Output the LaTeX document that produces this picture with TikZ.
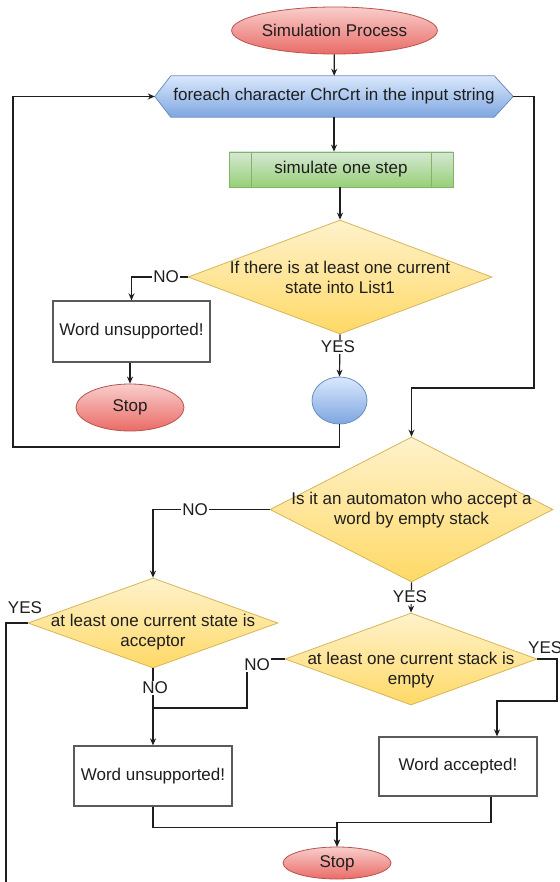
\documentclass[tikz,border=0pt]{standalone}
\usepackage{fontspec}
\setmainfont{Liberation Sans}
\usetikzlibrary{shapes.geometric,arrows.meta,backgrounds}

\definecolor{redA}{HTML}{F8CECC}\definecolor{redB}{HTML}{EA6B66}\definecolor{redS}{HTML}{B85450}
\definecolor{bluA}{HTML}{DAE8FC}\definecolor{bluB}{HTML}{7EA6E0}\definecolor{bluS}{HTML}{6C8EBF}
\definecolor{grnA}{HTML}{D5E8D4}\definecolor{grnB}{HTML}{97D077}\definecolor{grnS}{HTML}{82B366}
\definecolor{ylwA}{HTML}{FFF2CC}\definecolor{ylwB}{HTML}{FFD966}\definecolor{ylwS}{HTML}{D6B656}
\definecolor{boxS}{HTML}{5A5A5A}
\definecolor{ink}{HTML}{1E1E1E}

\tikzset{
  txt/.style={font=\fontsize{17}{20}\selectfont, text=ink, align=center, inner sep=0pt},
  terminal/.style={ellipse, draw=redS, line width=0.8pt, top color=redA, bottom color=redB, inner sep=0pt, txt},
  connector/.style={ellipse, draw=bluS, line width=0.8pt, top color=bluA, bottom color=bluB, inner sep=0pt},
  decision/.style={diamond, draw=ylwS, line width=0.8pt, top color=ylwA, bottom color=ylwB, inner sep=0pt},
  procbox/.style={rectangle, draw=boxS, line width=1.3pt, fill=white, txt},
  flow/.style={draw=ink, line width=1.2pt},
  arr/.style={flow, -{Stealth[length=7pt,width=6pt]}},
  lbl/.style={txt, fill=white, inner sep=1pt},
}

\begin{document}
\begin{tikzpicture}[x=1pt,y=-1pt]
\useasboundingbox (0,0) rectangle (559,882);
\begin{scope}[on background layer]
  \fill[white] (0,0) rectangle (559,882);
\end{scope}

% ---- shapes ----
\node[terminal, minimum width=155pt, minimum height=47pt] (start) at (334.5,30.5) {Simulation Process};

% loop header: hexagon drawn behind its text node
\node[txt, minimum width=358pt, minimum height=41pt] (loop) at (334,96.5) {foreach character ChrCrt in the input string};
\begin{scope}[on background layer]
  \path[draw=bluS, line width=0.8pt, top color=bluA, bottom color=bluB]
    (loop.west) -- ([xshift=16pt]loop.north west) -- ([xshift=-19pt]loop.north east)
    -- (loop.east) -- ([xshift=-19pt]loop.south east) -- ([xshift=16pt]loop.south west) -- cycle;
\end{scope}

\node[rectangle, draw=grnS, line width=0.8pt, top color=grnA, bottom color=grnB,
      minimum width=224pt, minimum height=35pt, txt] (step) at (341,169.5) {simulate one step};
\draw[grnS, line width=0.8pt] ([xshift=23pt]step.north west) -- ([xshift=23pt]step.south west)
  ([xshift=-22pt]step.north east) -- ([xshift=-22pt]step.south east);

\node[decision, minimum width=304pt, minimum height=114pt] (d1) at (340,277) {};
\node[txt] (t1) at (340,277) {If there is at least one current\\state into List1};

\node[procbox, minimum width=157pt, minimum height=61pt] (box1) at (131.5,331.5) {Word unsupported!};
\node[terminal, minimum width=108pt, minimum height=47pt] (stop1) at (130,407.5) {Stop};
\node[connector, minimum width=55pt, minimum height=47pt] (circ) at (339.5,400.5) {};

\node[decision, minimum width=283pt, minimum height=145pt] (d2) at (411.5,509.5) {};
\node[txt] (t2) at (411.5,510) {Is it an automaton who accept a\\word by empty stack};

\node[decision, minimum width=250pt, minimum height=90pt] (d3) at (153,623) {};
\node[txt] (t3) at (153,632) {at least one current state is\\acceptor};

\node[decision, minimum width=252pt, minimum height=92pt] (d4) at (411,659) {};
\node[txt] (t4) at (411,670) {at least one current stack is\\empty};

\node[procbox, minimum width=158pt, minimum height=60pt] (box2) at (153,776) {Word unsupported!};
\node[procbox, minimum width=158pt, minimum height=59pt] (acc) at (458,766.5) {Word accepted!};
\node[terminal, minimum width=108pt, minimum height=32pt] (stop2) at (337,863) {Stop};

% ---- routing points ----
\coordinate (loopback) at (13,447);
\coordinate (rightrun) at (534,388);
\coordinate (yesend) at (6,882);
\coordinate (nojoin) at (247,708);
\coordinate (yesturn) at (557,701);

% ---- connectors ----
\draw[arr] (start) -- (loop);
\draw[arr] (loop.south) -- (loop.south |- step.north);
\draw[arr] (step.south -| d1.north) -- (d1.north);

\draw[arr] (d1.west) -| (box1.north);
\node[lbl] at (166,277) {NO};
\draw[arr] (box1.south -| stop1.north) -- (stop1.north);

\draw[arr] (d1.south) -- (circ.north);
\node[lbl] at (338,347) {YES};

\draw[arr] (circ.south) |- (loopback) |- (loop.west);
\draw[arr] (loop.east) -| (rightrun) -| (d2.north);

\draw[arr] (d2.west) -| (d3.north);
\node[lbl] at (195,510) {NO};

\draw[arr] (d2.south) -- (d4.north);
\node[lbl] at (410,597) {YES};

\draw[flow] (d3.west) -| (yesend);
\node[txt] at (25,608) {YES};

\draw[arr] (d3.south) -- (box2.north);
\node[lbl] at (155,688) {NO};

\draw[flow] (d4.west) -| (nojoin) -- (nojoin -| box2.north);
\node[lbl] at (257,665) {NO};

\draw[arr] (d4.east) -| (yesturn) -| ([xshift=39pt]acc.north);
\node[txt, anchor=west] at (528,648) {YES};

\draw[arr] (box2.south) -- ++(0,21) -| (stop2.north);
\draw[arr] ([xshift=33pt]acc.south) -- ++(0,26) -| (stop2.north);
\end{tikzpicture}
\end{document}
